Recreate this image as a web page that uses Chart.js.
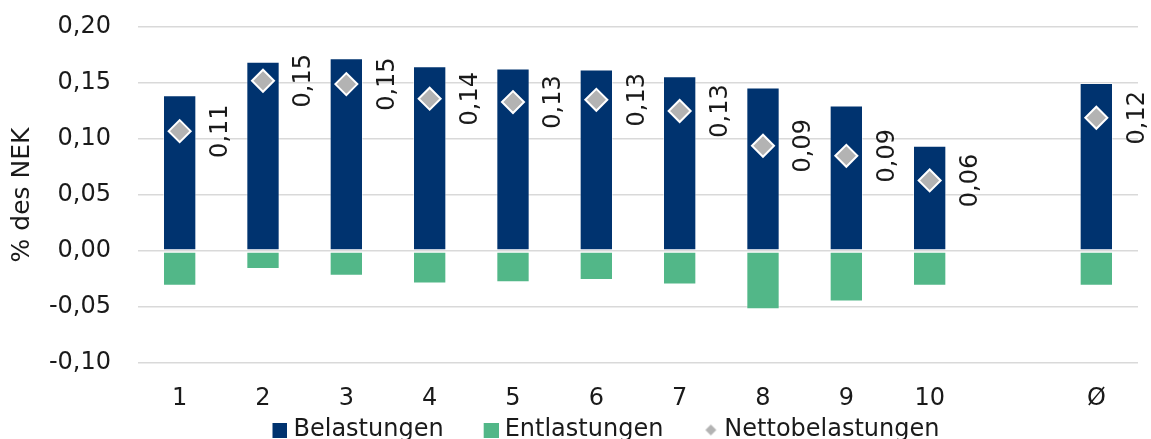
<!DOCTYPE html>
<html>
<head>
<meta charset="utf-8">
<script src="https://cdn.jsdelivr.net/npm/chart.js@4.4.1/dist/chart.umd.min.js"></script>
<style>
  html, body { margin: 0; padding: 0; background: #ffffff; }
  #wrap { width: 1151px; height: 439px; position: relative; }
</style>
</head>
<body>
<div id="wrap"><canvas id="c" width="1151" height="439"></canvas></div>
<script>
const categories = ["1", "2", "3", "4", "5", "6", "7", "8", "9", "10", "", "Ø"];
const belastungen = [0.139, 0.169, 0.172, 0.165, 0.163, 0.162, 0.156, 0.146, 0.130, 0.094, null, 0.150];
const entlastungen = [-0.031, -0.016, -0.022, -0.029, -0.028, -0.026, -0.030, -0.052, -0.045, -0.031, null, -0.031];
const nettobelastungen = [0.107, 0.152, 0.149, 0.136, 0.133, 0.135, 0.125, 0.094, 0.085, 0.063, null, 0.119];
const nettoLabels = ["0,11", "0,15", "0,15", "0,14", "0,13", "0,13", "0,13", "0,09", "0,09", "0,06", "", "0,12"];
const yTicks = [-0.10, -0.05, 0.00, 0.05, 0.10, 0.15, 0.20];

const FONT = "'DejaVu Sans', sans-serif";
const TEXT = '#1a1a1a';
const NAVY = '#00336f';
const GREEN = '#52b788';
const GREY = '#b3b3b3';

// legend markers: wide transparent canvas with the marker at its right end
const LEG_BOX = 43;            // legend box width (gives the gap between items)
const LEG_W = LEG_BOX + 12;    // image width
function makeMarker(kind, color) {
  const c = document.createElement('canvas');
  c.width = LEG_W; c.height = 15;
  const g = c.getContext('2d');
  g.fillStyle = color;
  const x0 = LEG_W - 15;
  if (kind === 'square') {
    g.fillRect(x0, 0, 15, 15);
  } else {
    g.beginPath();
    g.moveTo(x0 + 7.5, 2); g.lineTo(x0 + 13, 7.5); g.lineTo(x0 + 7.5, 13); g.lineTo(x0 + 2, 7.5); g.closePath();
    g.fill();
  }
  return c;
}
const markers = [makeMarker('square', NAVY), makeMarker('square', GREEN), makeMarker('diamond', GREY)];

const netLabelPlugin = {
  id: 'netLabels',
  afterDatasetsDraw(chart) {
    const meta = chart.getDatasetMeta(2);
    const ctx = chart.ctx;
    ctx.save();
    ctx.fillStyle = TEXT;
    ctx.font = "24px " + FONT;
    ctx.textAlign = 'center';
    ctx.textBaseline = 'middle';
    meta.data.forEach((el, i) => {
      const t = nettoLabels[i];
      if (!t || nettobelastungen[i] == null) return;
      ctx.save();
      ctx.translate(el.x + 41, el.y);
      ctx.rotate(-Math.PI / 2);
      ctx.fillText(t, 0, 0);
      ctx.restore();
    });
    ctx.restore();
  }
};

new Chart(document.getElementById('c'), {
  data: {
    labels: categories,
    datasets: [
      {
        type: 'bar', label: 'Belastungen', data: belastungen,
        backgroundColor: NAVY, borderColor: 'rgba(255,255,255,0.45)', borderWidth: 1, borderSkipped: false,
        stack: 'b', order: 2, barPercentage: 0.4, categoryPercentage: 1.0
      },
      {
        type: 'bar', label: 'Entlastungen', data: entlastungen,
        backgroundColor: GREEN, borderColor: 'rgba(255,255,255,0.45)', borderWidth: 1, borderSkipped: false,
        stack: 'b', order: 2, barPercentage: 0.4, categoryPercentage: 1.0
      },
      {
        type: 'line', label: 'Nettobelastungen', data: nettobelastungen,
        showLine: false, pointStyle: 'rectRot', pointRadius: 11, pointHoverRadius: 11,
        pointBackgroundColor: GREY, pointBorderColor: '#ffffff', pointBorderWidth: 2,
        stack: 'n', order: 1
      }
    ]
  },
  options: {
    responsive: false,
    animation: false,
    devicePixelRatio: 1,
    layout: { padding: { top: 27, right: 11, left: 38, bottom: -13 } },
    plugins: {
      tooltip: { enabled: false },
      legend: {
        position: 'bottom',
        labels: {
          font: { family: FONT, size: 24, lineHeight: 1.0 },
          color: TEXT,
          usePointStyle: true,
          pointStyleWidth: LEG_BOX,
          boxHeight: 15,
          padding: 6,
          sort: (a, b) => a.datasetIndex - b.datasetIndex,
          generateLabels(chart) {
            const items = Chart.defaults.plugins.legend.labels.generateLabels(chart);
            items.forEach(it => {
              it.lineWidth = 0;
              it.strokeStyle = 'rgba(0,0,0,0)';
              it.pointStyle = markers[it.datasetIndex];
            });
            return items;
          }
        }
      }
    },
    scales: {
      x: {
        stacked: true,
        grid: { display: false, drawTicks: false },
        border: { display: false },
        afterFit(scale) { scale.height = 49; },
        ticks: { font: { family: FONT, size: 24 }, color: TEXT, padding: 21, maxRotation: 0, autoSkip: false }
      },
      y: {
        stacked: true,
        min: -0.10, max: 0.20,
        afterBuildTicks(scale) { scale.ticks = yTicks.map(v => ({ value: v })); },
        afterFit(scale) { scale.width = 100; },
        grid: { color: '#d9d9d9', lineWidth: 1.5, drawTicks: true, tickLength: 24, tickColor: 'rgba(0,0,0,0)' },
        border: { display: false },
        ticks: {
          font: { family: FONT, size: 24 }, color: TEXT, padding: 3,
          callback: (v) => Number(v).toFixed(2).replace('.', ',')
        },
        title: { display: true, text: '% des NEK', font: { family: FONT, size: 25 }, color: TEXT, padding: { top: -31, bottom: 0 } }
      }
    }
  },
  plugins: [netLabelPlugin]
});
</script>
</body>
</html>
